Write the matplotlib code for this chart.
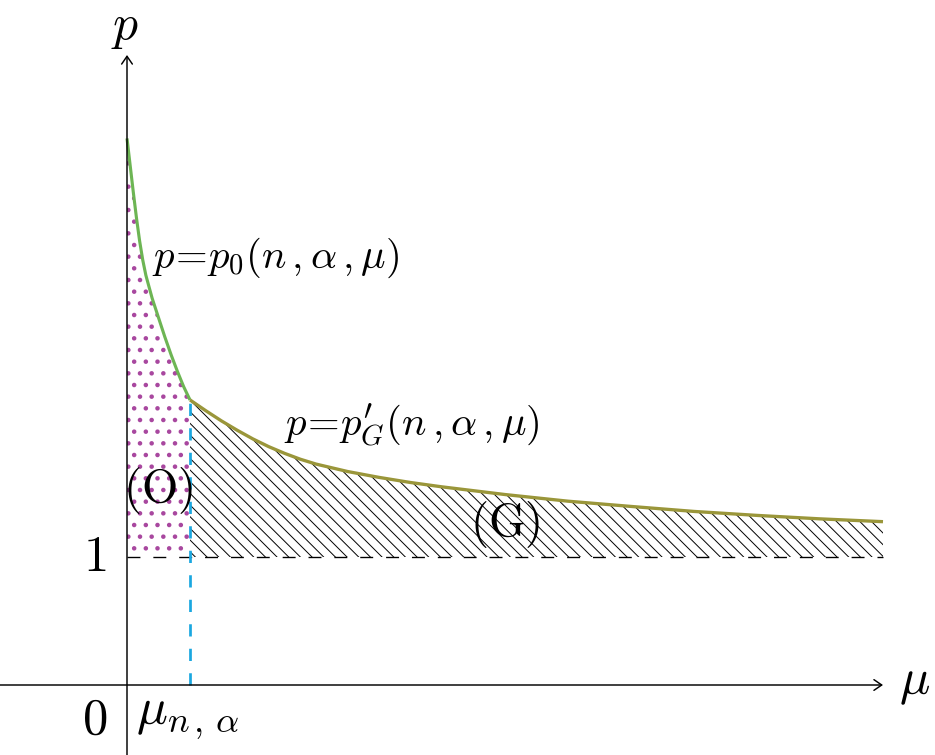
import matplotlib
matplotlib.use("Agg")
import matplotlib.pyplot as plt
import numpy as np

plt.rcParams['mathtext.fontset'] = 'cm'

# curve p = p0(n, alpha, mu), for 0 <= mu <= mu_{n,alpha}
mu_p0 = [0.0, 0.05, 0.1, 0.15, 0.2, 0.25, 0.3, 0.4, 0.5, 0.6, 0.7, 0.8, 0.9, 1.0]
p_p0 = [4.27, 4.06, 3.85, 3.65, 3.47, 3.32, 3.20, 3.02, 2.87, 2.72, 2.58,
        2.45, 2.33, 2.227]

# curve p = p'_G(n, alpha, mu), for mu >= mu_{n,alpha}
mu_pg = [1.0, 1.25, 1.5, 1.75, 2.0, 2.25, 2.5, 2.75, 3.0, 3.5, 4.0, 4.5, 5.0,
         6.0, 7.0, 8.0, 9.0, 10.0, 11.0, 12.0]
p_pg = [2.227, 2.143, 2.063, 1.99, 1.922, 1.862, 1.81, 1.764, 1.726, 1.668,
        1.622, 1.582, 1.548, 1.488, 1.436, 1.395, 1.356, 1.325, 1.298, 1.276]

mu_na = 1.0
p_one = 1.0

green = '#6db554'
olive = '#9a963a'
blue = '#1aa7e0'
purple = '#a8479f'

# dpi 70 so the hatch tile (1 inch) gives the spacing of the original
dpi = 70
fig = plt.figure(figsize=(935 / dpi, 755 / dpi), dpi=dpi)
ax = fig.add_axes([0, 0, 1, 1])
ax.set_xlim(-127 / 63, 808 / 63)
ax.set_ylim(-70 / 128, 685 / 128)
ax.axis('off')

# regions
plt.rcParams['hatch.linewidth'] = 2.2
ax.fill_between(mu_p0, p_one, p_p0, facecolor='none', edgecolor=purple,
                hatch='.', linewidth=0, zorder=1)
plt.rcParams['hatch.linewidth'] = 1.0
ax.fill_between(mu_pg, p_one, p_pg, facecolor='none', edgecolor='black',
                hatch='\\\\', linewidth=0, zorder=1)

# p = 1 dashed line
ax.plot([0, mu_pg[-1]], [p_one, p_one], color='black', lw=1.4,
        dashes=(9.5, 9.5), zorder=2)

# mu_{n,alpha} blue dashed line
ax.plot([mu_na, mu_na], [0, p_pg[0]], color=blue, lw=2.8,
        dashes=(4.5, 4.5), zorder=3)

# curves
ax.plot(mu_p0, p_p0, color=green, lw=3.2, solid_capstyle='butt',
        solid_joinstyle='round', zorder=4)
ax.plot(mu_pg, p_pg, color=olive, lw=3.4, solid_capstyle='butt',
        solid_joinstyle='round', zorder=4)

# axes with arrows
arr = dict(arrowstyle='->,head_length=0.8,head_width=0.55', lw=1.5,
           color='black', shrinkA=0, shrinkB=0)
ax.annotate('', xy=(mu_pg[-1], 0), xytext=(-127 / 63, 0), arrowprops=arr,
            zorder=5)
ax.annotate('', xy=(0, 630 / 128), xytext=(0, -70 / 128), arrowprops=arr,
            zorder=5)

# labels
ax.text(-0.03, 5.14, r'$p$', fontsize=51, ha='center', va='center')
ax.text(12.5, 0.02, r'$\mu$', fontsize=52, ha='center', va='center')
ax.text(-0.51, p_one, r'$1$', fontsize=52, ha='center', va='center')
ax.text(-0.51, -0.27, r'$0$', fontsize=52, ha='center', va='center')
ax.text(0.14, -0.25, r'$\mu_{n\,,\,\alpha}$', fontsize=53, ha='left',
        va='center')
ax.text(0.39, 3.34, r'$p\!=\!p_0(n\,,\alpha\,,\mu)$', fontsize=42,
        ha='left', va='center')
ax.text(2.5, 2.03, r"$p\!=\!p^{\prime}_{G}(n\,,\alpha\,,\mu)$", fontsize=42,
        ha='left', va='center')
ax.text(0.49, 1.52, r'$\mathrm{(O)}$', fontsize=48, ha='center', va='center',
        zorder=6)
ax.text(6.0, 1.25, r'$\mathrm{(G)}$', fontsize=48, ha='center', va='center',
        zorder=6)

plt.savefig('out.png', dpi=dpi)
